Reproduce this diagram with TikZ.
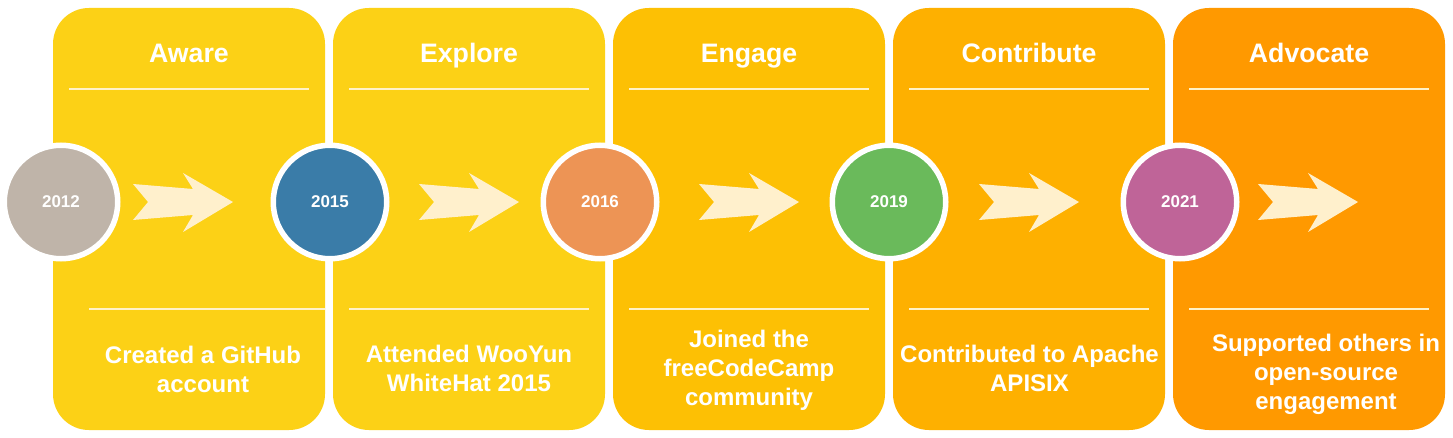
\documentclass[tikz,border=0pt]{standalone}
\usepackage{fontspec}
\setmainfont{Liberation Sans}
\definecolor{cA}{HTML}{FCD116}
\definecolor{cB}{HTML}{FCD116}
\definecolor{cC}{HTML}{FDC004}
\definecolor{cD}{HTML}{FEB000}
\definecolor{cE}{HTML}{FF9900}
\definecolor{y12}{HTML}{BFB4A9}
\definecolor{y15}{HTML}{3A7CA8}
\definecolor{y16}{HTML}{ED9455}
\definecolor{y19}{HTML}{6ABA5B}
\definecolor{y21}{HTML}{BF6498}
\definecolor{chevfill}{HTML}{FFF0CC}
\definecolor{sepline}{HTML}{FFF2C8}
\begin{document}
\begin{tikzpicture}[x=1pt,y=-1pt,
  stage/.style={rectangle, rounded corners=36pt, minimum width=272pt, minimum height=422pt, inner sep=0pt, draw=none},
  yearnode/.style={circle, minimum size=113.5pt, inner sep=0pt, draw=white, line width=5.5pt, text=white, font=\bfseries\fontsize{17}{20}\selectfont},
  ttl/.style={anchor=base, inner sep=0pt, text=white, font=\bfseries\fontsize{26.7}{32}\selectfont},
  body/.style={align=center, inner sep=0pt, text=white, font=\bfseries\fontsize{24}{29}\selectfont},
  sep/.style={draw=sepline, line width=1.6pt},
  chev/.pic={\fill[chevfill] (0,-18) -- (15,0) -- (0,18) -- (60,13) -- (50,30) -- (100,0) -- (50,-29) -- (60,-13) -- cycle;}
]
\useasboundingbox (0,0) rectangle (1453,438);
\fill[white] (0,0) rectangle (1453,438);
% stage boxes
\node[stage, fill=cA] (b1) at (189,219) {};
\node[stage, fill=cB] (b2) at (469,219) {};
\node[stage, fill=cC] (b3) at (749,219) {};
\node[stage, fill=cD] (b4) at (1029,219) {};
\node[stage, fill=cE] (b5) at (1309,219) {};
% titles
\node[ttl] (t1) at (189,63) {Aware};
\node[ttl] (t2) at (469,63) {Explore};
\node[ttl] (t3) at (749,63) {Engage};
\node[ttl] (t4) at (1029,63) {Contribute};
\node[ttl] (t5) at (1309,63) {Advocate};
% separator lines
\draw[sep] (69,89) -- (309,89);
\draw[sep] (89,309) -- (325,309);
\draw[sep] (349,89) -- (589,89);
\draw[sep] (349,309) -- (589,309);
\draw[sep] (629,89) -- (869,89);
\draw[sep] (629,309) -- (869,309);
\draw[sep] (909,89) -- (1149,89);
\draw[sep] (909,309) -- (1149,309);
\draw[sep] (1189,89) -- (1429,89);
\draw[sep] (1189,309) -- (1429,309);
% chevron arrows
\pic at (133,202) {chev};
\pic at (419,202) {chev};
\pic at (699,202) {chev};
\pic at (979,202) {chev};
\pic at (1258,202) {chev};
% descriptions
\node[body] (d1) at (203,369) {Created a GitHub\\account};
\node[body] (d2) at (469,368) {Attended WooYun\\WhiteHat 2015};
\node[body] (d3) at (749,370) {Joined the\\freeCodeCamp\\community};
\node[body] (d4) at (1029.5,368) {Contributed to Apache\\APISIX};
\node[body] (d5) at (1326,374) {Supported others in\\open-source\\engagement};
% year circles
\node[yearnode, fill=y12] (c1) at (61,202) {2012};
\node[yearnode, fill=y15] (c2) at (330,202) {2015};
\node[yearnode, fill=y16] (c3) at (600,202) {2016};
\node[yearnode, fill=y19] (c4) at (889,202) {2019};
\node[yearnode, fill=y21] (c5) at (1180,202) {2021};
\end{tikzpicture}
\end{document}
